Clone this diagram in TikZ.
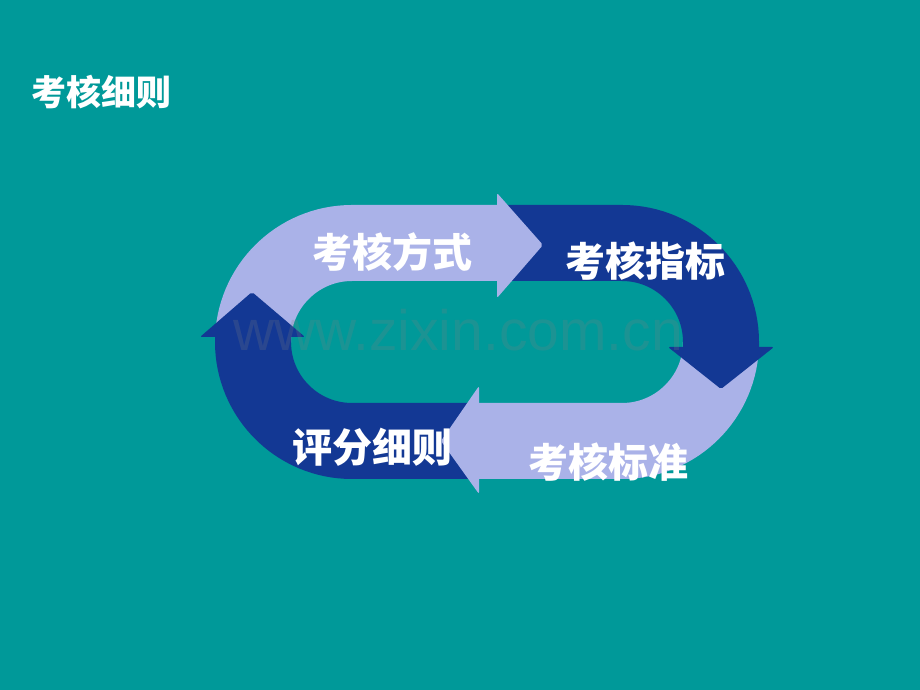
\documentclass[tikz,border=0pt]{standalone}
\usepackage{fontspec}
\usepackage{tikz}
\newfontfamily\cjk{Noto Sans CJK SC}
\setmainfont{Liberation Sans}
\definecolor{teal_bg}{RGB}{0,153,153}
\definecolor{lav}{RGB}{170,178,232}
\definecolor{navy}{RGB}{19,56,148}

\begin{document}
\begin{tikzpicture}[x=1pt,y=1pt,
		band_light/.style={draw=lav,line width=76pt,line cap=butt},
		band_dark/.style={draw=navy,line width=76pt,line cap=butt},
		head_light/.style={fill=lav,rounded corners=2pt},
		head_dark/.style={fill=navy,rounded corners=2pt},
		label_style/.style={text=white,font=\cjk\bfseries\fontsize{40}{40}\selectfont,inner sep=0pt}]

		\fill[teal_bg] (0,0) rectangle (920,690);
		\useasboundingbox (0,0) rectangle (920,690);

		\node[text=white,font=\cjk\bfseries\fontsize{35}{35}\selectfont,inner sep=0pt] (title) at (101,598) {考核细则};

		% the four bands of the loop
		\draw[band_light] (253,348) arc[start angle=180,end angle=90,radius=99] -- (501,447);
		\draw[band_light] (721,348) arc[start angle=0,end angle=-90,radius=99] -- (475,249);
		\draw[band_dark]  (501,447) -- (622,447) arc[start angle=90,end angle=0,radius=99] -- (721,339);
		\draw[band_dark]  (475,249) -- (352,249) arc[start angle=-90,end angle=-180,radius=99] -- (253,357);

		% arrow heads
		\fill[head_light] (497,497) -- (543,445) -- (497,392) -- cycle;
		\fill[head_dark]  (668,343) -- (721,301) -- (774,343) -- cycle;
		\fill[head_light] (479,304) -- (441,249) -- (479,196) -- cycle;
		\fill[head_dark]  (200,353) -- (252,398) -- (305,353) -- cycle;

		\node[text=gray,opacity=0.22,font=\fontsize{57}{57}\selectfont,inner sep=0pt] (mark) at (458,360) {www.zixin.com.cn};

		\node[label_style] (fangshi) at (392,438) {考核方式};
		\node[label_style] (zhibiao) at (645,429) {考核指标};
		\node[label_style] (xize) at (372,243) {评分细则};
		\node[label_style] (biaozhun) at (608,228) {考核标准};

\end{tikzpicture}
\end{document}
